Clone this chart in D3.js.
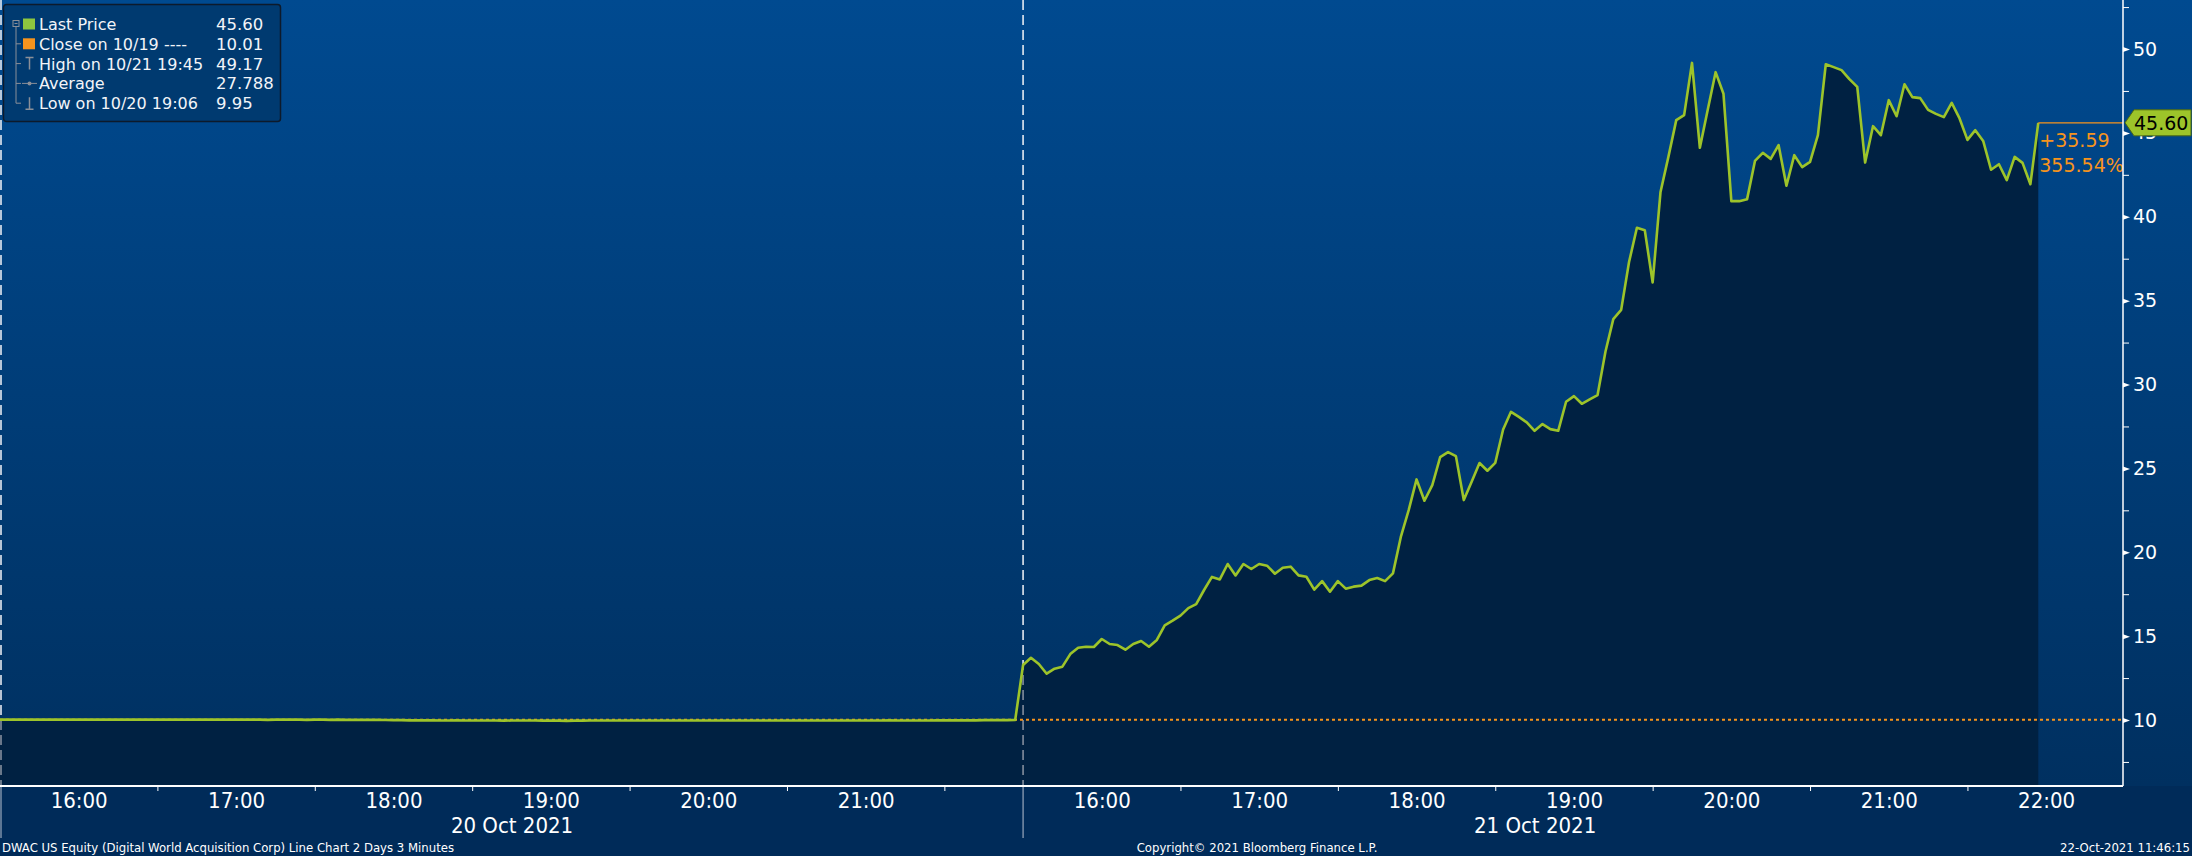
<!DOCTYPE html>
<html><head><meta charset="utf-8">
<script src="https://cdn.jsdelivr.net/npm/d3@7"></script>
<style>
html,body{margin:0;padding:0;background:#002b59;}
svg{display:block;}
.cond{font-family:"DejaVu Sans Condensed","DejaVu Sans",sans-serif;font-stretch:condensed;}
.reg{font-family:"DejaVu Sans",sans-serif;}
</style></head><body>
<svg id="chart" width="2192" height="856"></svg>
<script>
// ---------- data ----------
const day1Prices = [
 10.02,10.03,10.02,10.02,10.03,10.02,10.02,10.02,10.03,10.02,
 10.02,10.02,10.02,10.03,10.02,10.02,10.02,10.02,10.02,10.02,
 10.02,10.02,10.02,10.02,10.02,10.02,10.02,10.02,10.02,10.02,
 10.02,10.02,10.02,10.02,10.01,10.02,10.02,10.02,10.02,10.01,
 10.02,10.02,10.01,10.02,10.01,10.01,10.01,10.01,10.01,10.00,
 9.99,9.99,9.98,9.98,9.98,9.98,9.97,9.97,9.98,9.97,
 9.97,9.97,9.97,9.97,9.96,9.97,9.97,9.97,9.97,9.96,
 9.96,9.96,9.95,9.96,9.96,9.97,9.97,9.97,9.97,9.97,
 9.97,9.97,9.97,9.97,9.97,9.97,9.97,9.97,9.97,9.97,
 9.97,9.97,9.97,9.97,9.97,9.97,9.97,9.97,9.97,9.97,
 9.97,9.97,9.97,9.97,9.97,9.97,9.97,9.97,9.97,9.97,
 9.97,9.97,9.97,9.98,9.97,9.97,9.97,9.97,9.97,9.98,
 9.98,9.98,9.98,9.98,9.98,9.99,9.99,9.99,9.99,10.00];
const day2Prices = [
 13.28,13.71,13.34,12.76,13.06,13.18,13.93,14.31,14.37,14.35,
 14.83,14.53,14.47,14.19,14.53,14.71,14.37,14.77,15.64,15.92,
 16.22,16.67,16.91,17.75,18.53,18.38,19.30,18.62,19.30,19.00,
 19.30,19.20,18.72,19.08,19.14,18.62,18.54,17.77,18.28,17.65,
 18.28,17.83,17.95,18.01,18.34,18.46,18.28,18.74,20.91,22.51,
 24.34,23.07,24.00,25.67,25.97,25.73,23.11,24.20,25.32,24.86,
 25.33,27.32,28.37,28.07,27.74,27.24,27.64,27.34,27.24,28.97,
 29.31,28.85,29.11,29.37,31.95,33.90,34.45,37.30,39.34,39.20,
 36.08,41.48,43.57,45.76,46.06,49.17,44.11,46.38,48.62,47.33,
 40.93,40.93,41.05,43.33,43.81,43.45,44.27,41.85,43.67,42.96,
 43.27,44.86,49.09,48.92,48.74,48.20,47.74,43.23,45.40,44.86,
 46.95,45.99,47.90,47.13,47.07,46.37,46.13,45.94,46.79,45.86,
 44.58,45.16,44.52,42.80,43.13,42.18,43.57,43.21,41.94,45.60];
const dayLabels = ["20 Oct 2021", "21 Oct 2021"];
const hourLabels = ["16:00","17:00","18:00","19:00","20:00","21:00","22:00"];
const yTickValues = [10,15,20,25,30,35,40,45,50];
const yMinorValues = [7.5,12.5,17.5,22.5,27.5,32.5,37.5,42.5,47.5,52.5];
const legendLabels = ["Last Price","Close on 10/19 ----","High on 10/21 19:45","Average","Low on 10/20 19:06"];
const legendValues = ["45.60","10.01","49.17","27.788","9.95"];
const prevClose = 10.01;
const lastPrice = 45.60;
const lastPriceLabel = "45.60";
const changeLabels = ["+35.59","355.54%"];
const footerLeft = "DWAC US Equity (Digital World Acquisition Corp) Line Chart 2 Days 3 Minutes";
const footerMid = "Copyright\u00A9 2021 Bloomberg Finance L.P.";
const footerRight = "22-Oct-2021 11:46:15";

// ---------- layout ----------
const W = 2192, H = 856;
const plotRight = 2123, plotBottom = 786;
const SESSION = 390, BAR = 3;   // minutes per session (15:30-22:00), bar size
const svg = d3.select("#chart");

const x = d3.scaleLinear().domain([0, 809.3]).range([0, plotRight]);
const y = d3.scaleLinear().domain([10, 50]).range([720, 49]);

const pts = day1Prices.map((v,i)=>({t:i*BAR, v}))
  .concat(day2Prices.map((v,i)=>({t:SESSION + i*BAR, v})));

// background
const defs = svg.append("defs");
const g = defs.append("linearGradient").attr("id","bg").attr("x1",0).attr("y1",0).attr("x2",0).attr("y2",1);
g.append("stop").attr("offset","0%").attr("stop-color","#004a90");
g.append("stop").attr("offset","100%").attr("stop-color","#003060");
svg.append("rect").attr("width",W).attr("height",plotBottom).attr("fill","url(#bg)");
svg.append("rect").attr("y",plotBottom).attr("width",W).attr("height",H-plotBottom).attr("fill","#002b59");

const areaGen = d3.area().x(d=>x(d.t)).y0(plotBottom).y1(d=>y(d.v));
const lineGen = d3.line().x(d=>x(d.t)).y(d=>y(d.v));

defs.append("clipPath").attr("id","areaClip").append("path").attr("d", areaGen(pts));

// session separators (above area)
const seps = [0, SESSION];
svg.selectAll(".sepW").data(seps).join("line")
  .attr("x1",d=>Math.max(1,x(d))).attr("x2",d=>Math.max(1,x(d)))
  .attr("y1",0).attr("y2",plotBottom)
  .attr("stroke","#f2f4f8").attr("stroke-width",1.5).attr("stroke-dasharray","10,5");

// area
svg.append("path").attr("d", areaGen(pts)).attr("fill","#002142");

// separators inside area (dimmed)
svg.append("g").attr("clip-path","url(#areaClip)").selectAll("line").data(seps).join("line")
  .attr("x1",d=>Math.max(1,x(d))).attr("x2",d=>Math.max(1,x(d)))
  .attr("y1",0).attr("y2",plotBottom)
  .attr("stroke","#8c95a3").attr("stroke-width",1.5).attr("stroke-dasharray","10,5");

// separators in axis band
svg.selectAll(".sepB").data(seps).join("line")
  .attr("x1",d=>Math.max(1,x(d))).attr("x2",d=>Math.max(1,x(d)))
  .attr("y1",plotBottom).attr("y2",838)
  .attr("stroke","#b8c2d0").attr("stroke-width",1);

// previous close dotted line
svg.append("line").attr("x1",0).attr("x2",plotRight)
  .attr("y1",y(prevClose)).attr("y2",y(prevClose))
  .attr("stroke","#f7941d").attr("stroke-width",2).attr("stroke-dasharray","3,3");

// price line
svg.append("path").attr("d", lineGen(pts)).attr("fill","none")
  .attr("stroke","#9dc42a").attr("stroke-width",2.6).attr("stroke-linejoin","round");

// last price orange line to axis
const last = pts[pts.length-1];
svg.append("line").attr("x1",x(last.t)).attr("x2",plotRight)
  .attr("y1",y(lastPrice)).attr("y2",y(lastPrice))
  .attr("stroke","#f7941d").attr("stroke-width",1.2);

svg.selectAll(".chg").data(changeLabels).join("text")
  .attr("class","reg").attr("x",x(last.t)+1).attr("y",(d,i)=>147+i*25)
  .attr("fill","#f7941d").attr("font-size",19).text(d=>d);

// ---------- x axis ----------
const halfHours = [60,120,180,240,300,360, 450,510,570,630,690,750];
const xTicks = svg.append("g").attr("transform",`translate(0,${plotBottom})`)
  .call(d3.axisBottom(x).tickValues(halfHours).tickSize(5).tickFormat(""));
xTicks.select(".domain").remove();
xTicks.selectAll(".tick line").attr("stroke","#ffffff");
svg.append("line").attr("x1",0).attr("x2",plotRight).attr("y1",plotBottom).attr("y2",plotBottom)
  .attr("stroke","#ffffff").attr("stroke-width",2);

const hourTicks = [30,90,150,210,270,330, 420,480,540,600,660,720,780];
const xLab = svg.append("g").attr("transform",`translate(0,${plotBottom})`)
  .call(d3.axisBottom(x).tickValues(hourTicks).tickSize(0).tickPadding(6)
    .tickFormat(t=>{const day = t > SESSION ? 1 : 0; return hourLabels[(t - day*SESSION - 30)/60];}));
xLab.select(".domain").remove();
xLab.selectAll("text").attr("class","cond").attr("font-size",22).attr("fill","#ffffff").attr("font-family",null);

const dLab = svg.append("g").attr("transform",`translate(0,${plotBottom})`)
  .call(d3.axisBottom(x).tickValues([SESSION/2, SESSION*1.5]).tickSize(0).tickPadding(31)
    .tickFormat((t,i)=>dayLabels[i]));
dLab.select(".domain").remove();
dLab.selectAll("text").attr("class","cond").attr("font-size",22).attr("fill","#ffffff").attr("font-family",null);

// ---------- y axis ----------
svg.append("line").attr("x1",plotRight).attr("x2",plotRight).attr("y1",0).attr("y2",plotBottom)
  .attr("stroke","#ffffff").attr("stroke-width",1.5);
const yMinor = svg.append("g").attr("transform",`translate(${plotRight},0)`)
  .call(d3.axisRight(y).tickValues(yMinorValues).tickSize(6).tickFormat(""));
yMinor.select(".domain").remove();
yMinor.selectAll(".tick line").attr("stroke","#ffffff");
const yAx = svg.append("g").attr("transform",`translate(${plotRight},0)`)
  .call(d3.axisRight(y).tickValues(yTickValues).tickSize(0).tickPadding(10).tickFormat(d3.format("d")));
yAx.select(".domain").remove();
yAx.selectAll("text").attr("class","reg").attr("font-size",19).attr("fill","#ffffff").attr("font-family",null);
yAx.selectAll(".tick").append("path").attr("d","M0,-2.5L7,0L0,2.5Z").attr("fill","#ffffff");

// last price tag
const ty = y(lastPrice);
svg.append("path")
  .attr("d",`M${plotRight+2},${ty}L${plotRight+11},${ty-13}L${W-1},${ty-13}L${W-1},${ty+13}L${plotRight+11},${ty+13}Z`)
  .attr("fill","#9dc42a").attr("stroke","#4f6a10").attr("stroke-width",1);
svg.append("text").attr("class","reg").attr("x",plotRight+11).attr("y",ty+7)
  .attr("font-size",19).attr("fill","#000000").text(lastPriceLabel);

// ---------- legend ----------
const lg = svg.append("g");
lg.append("rect").attr("x",3.5).attr("y",4.5).attr("width",277).attr("height",117).attr("rx",3)
  .attr("fill","#003a70").attr("stroke","#0d1a2b").attr("stroke-width",1.5);
const rowY = i => 24 + i*19.8;
lg.append("line").attr("x1",16).attr("x2",16).attr("y1",rowY(0)+3).attr("y2",rowY(4))
  .attr("stroke","#8a8f98").attr("stroke-width",1);
lg.append("rect").attr("x",13).attr("y",rowY(0)-3.5).attr("width",6).attr("height",6)
  .attr("fill","#003a70").attr("stroke","#8a8f98").attr("stroke-width",1);
lg.append("line").attr("x1",14.5).attr("x2",17.5).attr("y1",rowY(0)-0.5).attr("y2",rowY(0)-0.5).attr("stroke","#8a8f98");
lg.selectAll(".br").data([1,2,3,4]).join("line")
  .attr("x1",16).attr("x2",21).attr("y1",i=>rowY(i)).attr("y2",i=>rowY(i))
  .attr("stroke","#8a8f98").attr("stroke-width",1);
lg.append("rect").attr("x",23).attr("y",rowY(0)-5.5).attr("width",12).attr("height",11).attr("fill","#8dc63f");
lg.append("rect").attr("x",23).attr("y",rowY(1)-5.5).attr("width",12).attr("height",11).attr("fill","#f7941d");
lg.append("path").attr("d",`M25.5,${rowY(2)-6}H33.5M29.5,${rowY(2)-6}V${rowY(2)+6}`).attr("stroke","#8a8f98").attr("stroke-width",1.5).attr("fill","none");
lg.append("path").attr("d",`M22,${rowY(3)}H37`).attr("stroke","#8a8f98").attr("stroke-width",1);
lg.append("circle").attr("cx",29.5).attr("cy",rowY(3)).attr("r",2).attr("fill","#8a8f98");
lg.append("path").attr("d",`M29.5,${rowY(4)-6}V${rowY(4)+6}M25.5,${rowY(4)+6}H33.5`).attr("stroke","#8a8f98").attr("stroke-width",1.5).attr("fill","none");
lg.selectAll(".ll").data(legendLabels).join("text").attr("class","reg")
  .attr("x",39).attr("y",(d,i)=>rowY(i)+6).attr("font-size",16).attr("fill","#f2f4f8").text(d=>d);
lg.selectAll(".lv").data(legendValues).join("text").attr("class","reg")
  .attr("x",216).attr("y",(d,i)=>rowY(i)+6).attr("font-size",16.5).attr("fill","#f2f4f8").text(d=>d);

// ---------- footer ----------
svg.append("text").attr("class","cond").attr("x",2).attr("y",852).attr("font-size",13).attr("fill","#ffffff").text(footerLeft);
svg.append("text").attr("class","cond").attr("x",1257).attr("y",852).attr("text-anchor","middle").attr("font-size",13).attr("fill","#ffffff").text(footerMid);
svg.append("text").attr("class","cond").attr("x",2190).attr("y",852).attr("text-anchor","end").attr("font-size",13).attr("fill","#ffffff").text(footerRight);
</script>
</body></html>
